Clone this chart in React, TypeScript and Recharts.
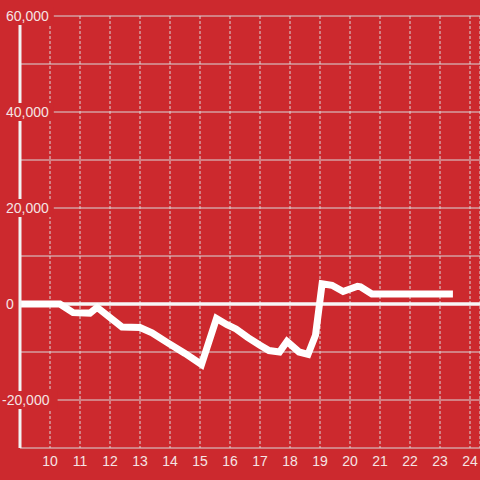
import {
  LineChart,
  Line,
  XAxis,
  YAxis,
  CartesianGrid,
  ReferenceLine,
} from "recharts";

const BG = "#cc292e";
const GRID = "#d9d9d9";
const TEXT = "#f5e4e4";

// hour of day -> running balance
const HOURS = [
  9, 10.33, 10.77, 11.33, 11.57, 12.4, 13.0, 13.4, 13.9, 14.5, 15.05,
  15.55, 15.9, 16.2, 16.6, 17.0, 17.3, 17.65, 17.9, 18.3, 18.6, 18.85,
  19.07, 19.4, 19.77, 20.25, 20.35, 20.73, 23.43,
];
const VALUES = [
  0, 0, -1800, -1900, -700, -4800, -4900, -6000, -8000, -10300, -12600,
  -3000, -4300, -5200, -7000, -8600, -9700, -10000, -7800, -10000, -10500, -6500,
  4200, 3900, 2600, 3700, 3600, 2100, 2100,
];

const X_TICKS = [10, 11, 12, 13, 14, 15, 16, 17, 18, 19, 20, 21, 22, 23, 24];
const Y_TICKS = [-30000, -20000, -10000, 0, 10000, 20000, 30000, 40000, 50000, 60000];
const Y_LABELS = [-20000, 0, 20000, 40000, 60000];

const data = HOURS.map((h, i) => ({ x: h, y: VALUES[i] }));

function YTick(props: any) {
  const { y, payload } = props;
  const v = payload.value;
  if (!Y_LABELS.includes(v)) return null;
  const label = v.toLocaleString("en-US");
  const tx = v < 0 ? 2 : 6;
  const w = label.length * 7.8;
  return (
    <g>
      <rect x={tx - 1} y={y - 9} width={w + 2} height={18} fill={BG} />
      <text x={tx} y={y + 5} fill={TEXT} fontSize={14} textAnchor="start">
        {label}
      </text>
    </g>
  );
}

export default function App() {
  return (
    <div
      style={{
        position: "absolute",
        left: 0,
        top: 0,
        width: 480,
        height: 480,
        background: BG,
        fontFamily: "'Liberation Sans', Arial, sans-serif",
      }}
    >
      <LineChart
        width={480}
        height={480}
        data={data}
        margin={{ top: 16, right: 0, bottom: 0, left: 0 }}
      >
        <CartesianGrid stroke={GRID} vertical={false} />
        <CartesianGrid stroke={GRID} horizontal={false} strokeDasharray="3 2" />
        <XAxis
          type="number"
          dataKey="x"
          domain={[9, 24.333]}
          ticks={X_TICKS}
          allowDataOverflow
          height={32}
          axisLine={false}
          tickLine={false}
          tick={{ fill: TEXT, fontSize: 14 }}
        />
        <YAxis
          type="number"
          domain={[-30000, 60000]}
          ticks={Y_TICKS}
          allowDataOverflow
          width={20}
          axisLine={{ stroke: "#f2f2f2", strokeWidth: 3 }}
          tickLine={false}
          tick={<YTick />}
        />
        <ReferenceLine y={0} stroke="#f7f7f7" strokeWidth={3.5} />
        <Line
          type="linear"
          dataKey="y"
          stroke="#ffffff"
          strokeWidth={7}
          dot={false}
          isAnimationActive={false}
        />
      </LineChart>
    </div>
  );
}
